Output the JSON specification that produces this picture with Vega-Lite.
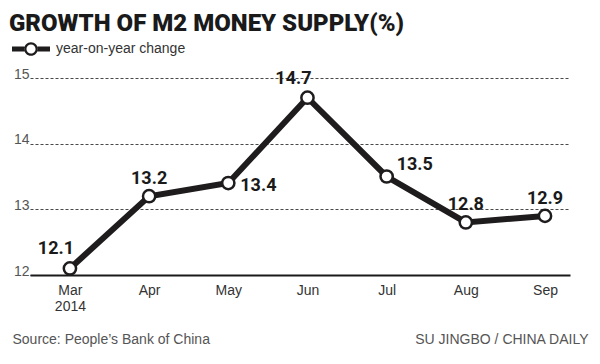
{
  "$schema": "https://vega.github.io/schema/vega-lite/v6.json",
  "width": 540,
  "height": 197,
  "autosize": "none",
  "padding": {"left": 30, "top": 78, "right": 30, "bottom": 89},
  "background": "white",
  "config": {"view": {"stroke": null}, "font": "Liberation Sans"},
  "title": {
    "text": "GROWTH OF M2 MONEY SUPPLY(%)",
    "anchor": "start",
    "dx": -3,
    "dy": 25,
    "offset": 0,
    "baseline": "alphabetic",
    "fontSize": 24,
    "fontWeight": 900,
    "font": "Roboto",
    "color": "#1a1a1a"
  },
  "data": {
    "values": [
      {"month": "Mar", "value": 12.1},
      {"month": "Apr", "value": 13.2},
      {"month": "May", "value": 13.4},
      {"month": "Jun", "value": 14.7},
      {"month": "Jul", "value": 13.5},
      {"month": "Aug", "value": 12.8},
      {"month": "Sep", "value": 12.9}
    ]
  },
  "encoding": {
    "x": {
      "field": "month",
      "type": "ordinal",
      "sort": ["Mar", "Apr", "May", "Jun", "Jul", "Aug", "Sep"],
      "scale": {"type": "point", "padding": 0.41, "align": 0.615},
      "axis": {
        "title": "Source: People\u2019s Bank of China",
        "titleX": -18,
        "titleY": 68,
        "titleAnchor": "start",
        "titleAlign": "left",
        "titleBaseline": "alphabetic",
        "titleFontWeight": "normal",
        "titleFontSize": 14,
        "titleColor": "#555555",
        "titleFont": "Liberation Sans",
        "labelAngle": 0,
        "labelFontSize": 14,
        "labelColor": "#333333",
        "labelPadding": 8,
        "labelExpr": "datum.value == 'Mar' ? ['Mar', '2014'] : datum.value",
        "ticks": false,
        "domainColor": "#1a1a1a",
        "domainWidth": 2,
        "grid": false
      }
    },
    "y": {
      "field": "value",
      "type": "quantitative",
      "scale": {"domain": [12, 15], "nice": false, "zero": false}
    }
  },
  "layer": [
    {
      "mark": {"type": "line", "strokeWidth": 6, "strokeJoin": "miter"},
      "encoding": {
        "y": {
          "field": "value",
          "type": "quantitative",
          "axis": {
            "title": null,
            "values": [12, 13, 14, 15],
            "labelFontSize": 14,
            "labelColor": "#555555",
            "labelBaseline": "alphabetic",
            "labelPadding": 1,
            "ticks": false,
            "domain": false,
            "grid": true,
            "gridColor": "#1a1a1a",
            "gridDash": [3, 2],
            "gridWidth": 0.8
          }
        },
        "color": {
          "datum": "year-on-year change",
          "scale": {"range": ["#1f1c1d"]},
          "legend": {
            "title": null,
            "orient": "none",
            "legendX": -18,
            "legendY": -48,
            "symbolType": "M-1,-0.13H-0.35V0.13H-1Z M0.35,-0.13H1V0.13H0.35Z M0.36,0A0.36,0.36 0 1,0 -0.36,0A0.36,0.36 0 1,0 0.36,0Z M0.24,0A0.24,0.24 0 1,1 -0.24,0A0.24,0.24 0 1,1 0.24,0Z",
            "symbolSize": 1444,
            "symbolFillColor": "#1f1c1d",
            "symbolStrokeWidth": 0,
            "labelFontSize": 14,
            "labelColor": "#333333",
            "labelOffset": 6
          }
        }
      }
    },
    {
      "mark": {"type": "point", "shape": "circle", "filled": true, "fill": "white", "stroke": "#1f1c1d", "strokeWidth": 2.5, "size": 150, "opacity": 1},
      "encoding": {
        "y": {
          "field": "value",
          "type": "quantitative",
          "axis": {
            "orient": "right",
            "title": "SU JINGBO / CHINA DAILY",
            "titleAngle": 0,
            "titleX": 18,
            "titleY": 265,
            "titleAlign": "right",
            "titleAnchor": "end",
            "titleBaseline": "alphabetic",
            "titleFontWeight": "normal",
            "titleFontSize": 14,
            "titleColor": "#555555",
            "titleFont": "Liberation Sans",
            "labels": false,
            "ticks": false,
            "domain": false,
            "grid": false
          }
        }
      }
    },
    {
      "transform": [{"filter": {"field": "month", "oneOf": ["Apr", "Aug", "Sep"]}}],
      "mark": {"type": "text", "dy": -17, "fontSize": 18, "fontWeight": "bold", "font": "Roboto", "color": "#1a1a1a"},
      "encoding": {"y": {"field": "value", "type": "quantitative", "axis": null}, "text": {"field": "value", "type": "quantitative", "format": ".1f"}}
    },
    {
      "transform": [{"filter": {"field": "month", "oneOf": ["Mar", "Jun"]}}],
      "mark": {"type": "text", "dx": -14, "dy": -19, "fontSize": 18, "fontWeight": "bold", "font": "Roboto", "color": "#1a1a1a"},
      "encoding": {"y": {"field": "value", "type": "quantitative", "axis": null}, "text": {"field": "value", "type": "quantitative", "format": ".1f"}}
    },
    {
      "transform": [{"filter": {"field": "month", "equal": "May"}}],
      "mark": {"type": "text", "align": "left", "dx": 12, "dy": 3, "fontSize": 18, "fontWeight": "bold", "font": "Roboto", "color": "#1a1a1a"},
      "encoding": {"y": {"field": "value", "type": "quantitative", "axis": null}, "text": {"field": "value", "type": "quantitative", "format": ".1f"}}
    },
    {
      "transform": [{"filter": {"field": "month", "equal": "Jul"}}],
      "mark": {"type": "text", "align": "left", "dx": 10, "dy": -12, "fontSize": 18, "fontWeight": "bold", "font": "Roboto", "color": "#1a1a1a"},
      "encoding": {"y": {"field": "value", "type": "quantitative", "axis": null}, "text": {"field": "value", "type": "quantitative", "format": ".1f"}}
    }
  ],
  "resolve": {"axis": {"y": "independent"}}
}
